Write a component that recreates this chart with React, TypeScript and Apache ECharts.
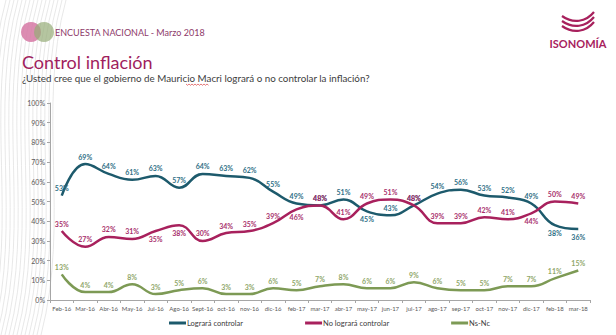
import React, { useEffect, useRef } from "react";
import * as echarts from "echarts";

const categories = ["Feb-16","Mar-16","Abr-16","May-16","Jul-16","Ago-16","Sept-16","oct-16","nov-16","dic-16","feb-17","mar-17","abr-17","may-17","jun-17","jul-17","ago-17","sep-17","oct-17","nov-17","dic-17","feb-18","mar-18"];
const lograra = [53,69,64,61,63,57,64,63,62,55,49,48,51,45,43,48,54,56,53,52,49,38,36];
const noLograra = [35,27,32,31,35,38,30,34,35,39,46,48,41,49,51,48,39,39,42,41,44,50,49];
const nsnc = [13,4,4,8,3,5,6,3,3,6,5,7,8,6,6,9,6,5,5,7,7,11,15];
const seriesNames = ["Logrará controlar", "No logrará controlar", "Ns-Nc"];

// label placement (top / bottom) per point
const blueLabelPos = ["top","top","top","top","top","top","top","top","top","top","top","top","top","bottom","top","top","top","top","top","top","top","bottom","bottom"];
const pinkLabelPos = ["top","top","top","top","bottom","bottom","top","top","top","top","bottom","top","top","top","top","top","top","top","top","top","bottom","top","top"];

const FONT = "Lato, 'Liberation Sans', sans-serif";
const BLUE = "#1d5a6c";
const PINK = "#a8215d";
const GREEN = "#7d9a55";

function mkData(vals: number[], pos: string[] | null, color: string) {
  return vals.map((v, i) => ({
    value: v,
    label: {
      show: true,
      position: pos ? pos[i] : "top",
      distance: 4,
      formatter: "{c}%",
      color,
      fontSize: 7,
      fontWeight: "bold",
      fontFamily: FONT,
    },
  }));
}

function leftStripes() {
  const arr: any[] = [];
  for (let i = 0; i < 16; i++) {
    const x0 = -14 + i * 4;
    arr.push({
      type: "bezierCurve",
      silent: true,
      z: -1,
      shape: { x1: x0 + 20, y1: 0, cpx1: x0 - 10, cpy1: 110, cpx2: x0 + 25, cpy2: 220, x2: x0 - 5, y2: 335 },
      style: { stroke: "#e2e2e2", lineWidth: 0.8, fill: "none" },
    });
  }
  return arr;
}

function squiggle(x0: number, x1: number, y: number) {
  const pts: number[][] = [];
  let up = true;
  for (let x = x0; x <= x1; x += 1.5) {
    pts.push([x, up ? y : y + 1.3]);
    up = !up;
  }
  return { type: "polyline", shape: { points: pts }, style: { stroke: "#d84040", lineWidth: 0.7, fill: "none" } };
}

export default function App() {
  const ref = useRef<HTMLDivElement>(null);
  useEffect(() => {
    document.body.style.margin = "0";
    const chart = echarts.init(ref.current!, null, { renderer: "svg" });
    const mkSeries = (name: string, data: any[], color: string) => ({
      name, type: "line", smooth: 0.45, symbol: "circle", symbolSize: 0, showSymbol: true,
      lineStyle: { width: 2.5, color }, itemStyle: { color },
      data,
    });
    const option: any = {
      animation: false,
      backgroundColor: "#ffffff",
      textStyle: { fontFamily: FONT },
      grid: { left: 50, right: 26, top: 103, bottom: 35, containLabel: false },
      xAxis: {
        type: "category",
        data: categories,
        boundaryGap: true,
        axisLine: { lineStyle: { color: "#a6a6a6" } },
        axisTick: { show: true, length: 3, lineStyle: { color: "#a6a6a6" } },
        axisLabel: { fontSize: 6, color: "#595959", margin: 5, interval: 0, fontFamily: FONT },
      },
      yAxis: {
        type: "value",
        min: 0,
        max: 100,
        interval: 10,
        axisLine: { show: true, lineStyle: { color: "#a6a6a6" } },
        axisTick: { show: true, length: 3, lineStyle: { color: "#a6a6a6" } },
        splitLine: { show: false },
        axisLabel: { formatter: "{value}%", fontSize: 7, color: "#595959", margin: 5, fontFamily: FONT },
      },
      legend: {
        bottom: 3,
        left: 164,
        itemWidth: 17,
        itemHeight: 3,
        itemGap: 62,
        icon: "rect",
        textStyle: { fontSize: 7.5, color: "#404040", fontFamily: FONT, padding: [0, 0, 0, -4] },
        data: seriesNames,
      },
      series: [
        mkSeries(seriesNames[0], mkData(lograra, blueLabelPos, "#2f6f86"), BLUE),
        mkSeries(seriesNames[1], mkData(noLograra, pinkLabelPos, "#a8306c"), PINK),
        mkSeries(seriesNames[2], mkData(nsnc, null, "#8fa76a"), GREEN),
      ],
      graphic: [
        ...leftStripes(),
        { type: "circle", shape: { cx: 31, cy: 32, r: 10 }, style: { fill: "rgba(214,120,165,0.85)" } },
        { type: "circle", shape: { cx: 44, cy: 32, r: 10 }, style: { fill: "rgba(150,172,120,0.7)" } },
        { type: "text", x: 55, y: 32, style: { text: "ENCUESTA NACIONAL - Marzo 2018", fontSize: 9, fill: "#8e3a6a", fontFamily: FONT, verticalAlign: "middle" } },
        { type: "text", x: 22, y: 62, style: { text: "Control inflación", fontSize: 18, fill: "#a01e5e", fontFamily: FONT, verticalAlign: "middle" } },
        { type: "text", x: 22, y: 78, style: { text: "¿Usted cree que el gobierno de Mauricio Macri logrará o no controlar la inflación?", fontSize: 9.8, fill: "#404040", fontFamily: FONT, verticalAlign: "middle" } },
        squiggle(186, 209, 84),
        { type: "bezierCurve", shape: { x1: 562, y1: 16, cpx1: 573, cpy1: 24, cpx2: 586, cpy2: 22, x2: 594, y2: 12 }, style: { stroke: "#a8215d", lineWidth: 2.2, fill: "none" } },
        { type: "bezierCurve", shape: { x1: 562, y1: 21, cpx1: 573, cpy1: 29, cpx2: 586, cpy2: 27, x2: 594, y2: 17 }, style: { stroke: "#a8215d", lineWidth: 2.2, fill: "none" } },
        { type: "bezierCurve", shape: { x1: 562, y1: 26, cpx1: 573, cpy1: 34, cpx2: 586, cpy2: 32, x2: 594, y2: 22 }, style: { stroke: "#a8215d", lineWidth: 2.2, fill: "none" } },
        { type: "text", x: 578, y: 43, style: { text: "ISONOMÍA", fontSize: 11, fontWeight: "bold", fill: "#a8215d", fontFamily: FONT, align: "center", verticalAlign: "middle" } },
      ],
    };
    chart.setOption(option);
    return () => chart.dispose();
  }, []);
  return <div ref={ref} style={{ width: 616, height: 335 }} />;
}
